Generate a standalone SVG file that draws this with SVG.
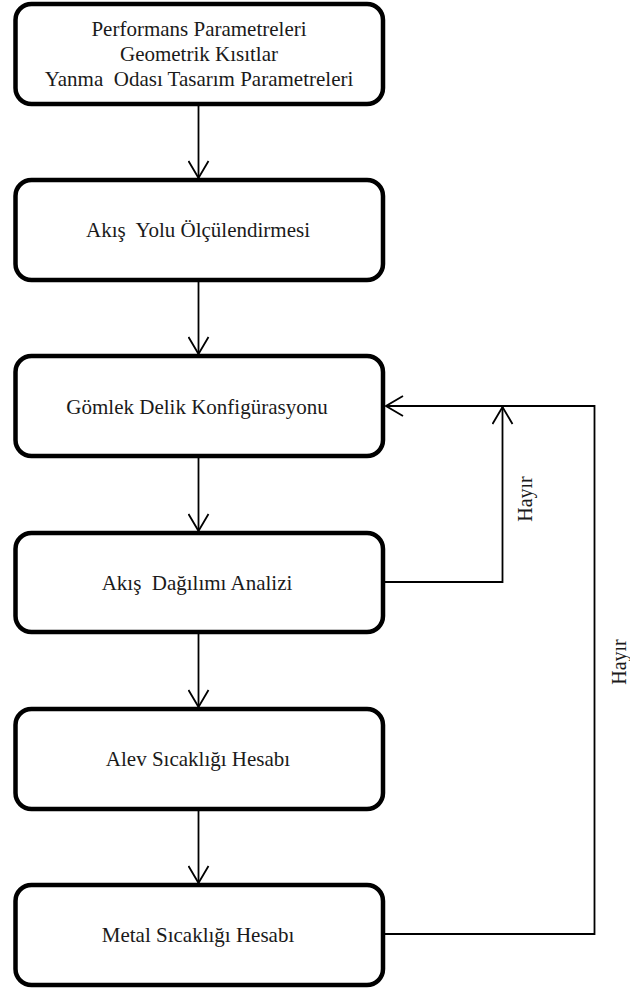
<svg xmlns="http://www.w3.org/2000/svg" width="630" height="989" viewBox="0 0 630 989">
  <style>
    .box { fill: #ffffff; stroke: #000000; stroke-width: 4.5; }
    .lbl { font-family: "Liberation Serif", "Times New Roman", serif; font-size: 21px; fill: #1a1a1a; text-anchor: middle; }
    .side { font-family: "Liberation Serif", "Times New Roman", serif; font-size: 20px; fill: #1a1a1a; text-anchor: middle; }
    .con { fill: none; stroke: #000000; stroke-width: 1.8; }
  </style>
  <defs>
    <marker id="arr" markerUnits="userSpaceOnUse" viewBox="0 0 20 22" refX="19" refY="11" markerWidth="20" markerHeight="22" orient="auto">
      <path d="M2,1 L19,11 L2,21" fill="none" stroke="#000000" stroke-width="1.8"/>
    </marker>
  </defs>
  <rect width="630" height="989" fill="#ffffff"/>

  <g id="connectors">
    <line class="con" x1="198.5" y1="106" x2="198.5" y2="178" marker-end="url(#arr)"/>
    <line class="con" x1="198.5" y1="282" x2="198.5" y2="354" marker-end="url(#arr)"/>
    <line class="con" x1="198.5" y1="458" x2="198.5" y2="531" marker-end="url(#arr)"/>
    <line class="con" x1="198.5" y1="634" x2="198.5" y2="707" marker-end="url(#arr)"/>
    <line class="con" x1="198.5" y1="811" x2="198.5" y2="883" marker-end="url(#arr)"/>
    <polyline class="con" points="385,582 502.5,582 502.5,407" marker-end="url(#arr)"/>
    <polyline class="con" points="385,934 594.5,934 594.5,406 386,406" marker-end="url(#arr)"/>
    <text class="side" transform="translate(532,499) rotate(-90)">Hayır</text>
    <text class="side" transform="translate(626,662) rotate(-90)">Hayır</text>
  </g>

  <g id="n1">
    <rect class="box" x="15.5" y="4" width="367.5" height="100" rx="16"/>
    <text class="lbl" xml:space="preserve"><tspan x="199" y="36">Performans Parametreleri</tspan><tspan x="199" y="61">Geometrik Kısıtlar</tspan><tspan x="199" y="86">Yanma  Odası Tasarım Parametreleri</tspan></text>
  </g>
  <g id="n2">
    <rect class="box" x="15.5" y="180" width="367.5" height="100" rx="16"/>
    <text class="lbl" x="198" y="237" xml:space="preserve">Akış  Yolu Ölçülendirmesi</text>
  </g>
  <g id="n3">
    <rect class="box" x="15.5" y="356" width="367.5" height="100" rx="16"/>
    <text class="lbl" x="197" y="414">Gömlek Delik Konfigürasyonu</text>
  </g>
  <g id="n4">
    <rect class="box" x="15.5" y="533" width="367.5" height="99" rx="16"/>
    <text class="lbl" x="197" y="590" xml:space="preserve">Akış  Dağılımı Analizi</text>
  </g>
  <g id="n5">
    <rect class="box" x="15.5" y="709" width="367.5" height="100" rx="16"/>
    <text class="lbl" x="198" y="766">Alev Sıcaklığı Hesabı</text>
  </g>
  <g id="n6">
    <rect class="box" x="15.5" y="885" width="367.5" height="100" rx="16"/>
    <text class="lbl" x="198" y="942">Metal Sıcaklığı Hesabı</text>
  </g>
</svg>
